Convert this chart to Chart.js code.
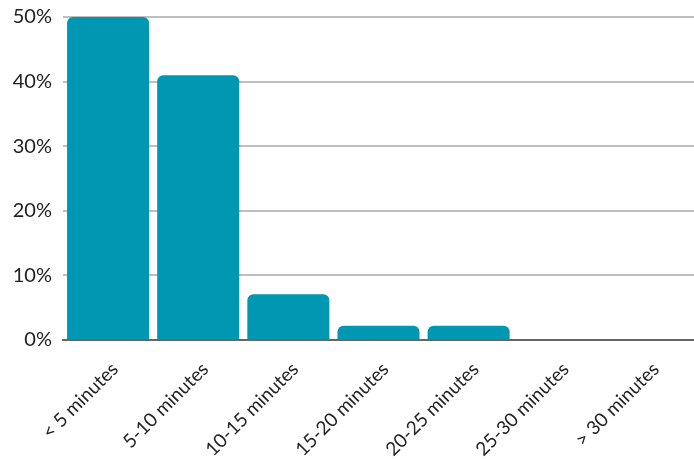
<!DOCTYPE html>
<html>
<head>
<meta charset="utf-8">
<script src="https://cdn.jsdelivr.net/npm/chart.js@4"></script>
<style>
  html, body { margin: 0; padding: 0; background: #fff; }
  #wrap { width: 694px; height: 459px; }
</style>
</head>
<body>
<div id="wrap"><canvas id="chart"></canvas></div>
<script>
// data
const categories = ['< 5 minutes', '5-10 minutes', '10-15 minutes', '15-20 minutes', '20-25 minutes', '25-30 minutes', '> 30 minutes'];
const shares = [50, 41, 7.1, 2.2, 2.2, 0, 0];
const yTicks = [0, 10, 20, 30, 40, 50];

const ctx = document.getElementById('chart').getContext('2d');
new Chart(ctx, {
  type: 'bar',
  data: {
    labels: categories,
    datasets: [{
      data: shares,
      backgroundColor: '#0097b2',
      borderRadius: { topLeft: 6, topRight: 6 },
      borderSkipped: 'start',
      barPercentage: 0.91,
      categoryPercentage: 1
    }]
  },
  options: {
    responsive: true,
    maintainAspectRatio: false,
    animation: false,
    layout: { padding: 0 },
    plugins: { legend: { display: false }, tooltip: { enabled: false } },
    scales: {
      x: {
        grid: { display: false },
        border: { display: true, color: '#666', width: 2 },
        ticks: {
          color: '#222',
          font: { family: 'Lato', size: 19 },
          maxRotation: 45, minRotation: 45,
          padding: 10,
          labelOffset: 7
        },
        // fix the axis box so the plot sits where the reference has it
        afterFit: s => { s.height = 119; s.paddingLeft = 0; s.paddingRight = 0; }
      },
      y: {
        min: 0, max: 50,
        afterBuildTicks: axis => { axis.ticks = yTicks.map(v => ({ value: v })); },
        grid: { color: '#bfbfbf', lineWidth: 2, drawTicks: false },
        border: { display: false },
        ticks: {
          color: '#222',
          font: { family: 'Lato', size: 20 },
          padding: 11,
          callback: v => v + '%'
        },
        afterFit: s => { s.width = 63; s.paddingTop = 17; s.paddingBottom = 0; }
      }
    }
  }
});
</script>
</body>
</html>
